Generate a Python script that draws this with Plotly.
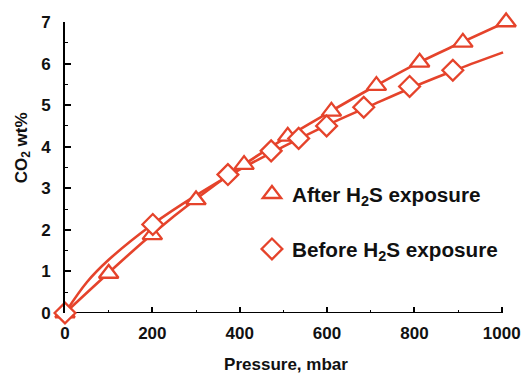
import plotly.graph_objects as go

after_x = [0, 100, 200, 300, 410, 510, 610, 713, 812, 911, 1010]
after_y = [0, 0.95, 1.88, 2.72, 3.57, 4.25, 4.85, 5.47, 6.03, 6.51, 7.0]

before_x = [0, 201, 373, 472, 535, 599, 684, 789, 888]
before_y = [0, 2.13, 3.33, 3.90, 4.20, 4.50, 4.95, 5.45, 5.84]

# Fitted curves
after_fit_x = [0, 100, 200, 300, 400, 500, 600, 700, 800, 900, 1010]
after_fit_y = [0, 0.97, 1.90, 2.74, 3.50, 4.18, 4.80, 5.40, 5.97, 6.47, 7.0]

before_fit_x = [0, 50, 100, 200, 300, 400, 500, 600, 700, 800, 900, 1003]
before_fit_y = [0, 0.74, 1.28, 2.13, 2.83, 3.45, 4.00, 4.52, 4.99, 5.45, 5.87, 6.27]

x_ticks = [0, 200, 400, 600, 800, 1000]
y_ticks = [0, 1, 2, 3, 4, 5, 6, 7]
x_axis_end = 1000

RED = "#E5432B"
FONT = "Liberation Sans, Arial, sans-serif"
TXT = "#111111"

fig = go.Figure()
fig.add_trace(go.Scatter(x=after_fit_x, y=after_fit_y, mode="lines",
                         line=dict(color=RED, width=2.6, shape="spline", smoothing=1.0),
                         showlegend=False, cliponaxis=False, hoverinfo="skip"))
fig.add_trace(go.Scatter(x=before_fit_x, y=before_fit_y, mode="lines",
                         line=dict(color=RED, width=2.6, shape="spline", smoothing=1.0),
                         showlegend=False, cliponaxis=False, hoverinfo="skip"))
fig.add_trace(go.Scatter(x=after_x, y=after_y, mode="markers",
                         name="After H<sub>2</sub>S exposure", legendgroup="a",
                         marker=dict(symbol="triangle-up", size=17, color="white",
                                     line=dict(color=RED, width=2.3)),
                         cliponaxis=False))
fig.add_trace(go.Scatter(x=before_x, y=before_y, mode="markers",
                         name="Before H<sub>2</sub>S exposure", legendgroup="b",
                         marker=dict(symbol="diamond", size=16, color="white",
                                     line=dict(color=RED, width=2.3)),
                         cliponaxis=False))

axis_common = dict(
    ticks="inside", ticklen=6, tickwidth=1.5, tickcolor="black",
    showgrid=False, zeroline=False, mirror=False, automargin=False,
    tickfont=dict(family=FONT, size=17, color=TXT, weight="bold"),
)

fig.update_xaxes(range=[0, 1012], tickvals=x_ticks, showline=False,
                 minor=dict(ticks="inside", ticklen=3, tickwidth=1.2, tickcolor="black", dtick=100, tick0=0),
                 title=dict(text="Pressure, mbar", font=dict(family=FONT, size=17, color=TXT, weight="bold"),
                            standoff=21),
                 ticklabelstandoff=8,
                 **axis_common)
fig.update_yaxes(range=[0, 7], tickvals=y_ticks, showline=True, linecolor="black", linewidth=2,
                 minor=dict(ticks="inside", ticklen=3, tickwidth=1.2, tickcolor="black", dtick=0.5, tick0=0),
                 ticklabelstandoff=9,
                 **axis_common)

# y axis title placed like the reference (slightly above centre)
fig.add_annotation(text="CO<sub>2</sub> wt%", xref="paper", yref="paper",
                   x=-0.096, y=0.568, xanchor="center", yanchor="middle",
                   textangle=-90, showarrow=False,
                   font=dict(family=FONT, size=17, color=TXT, weight="bold"))

# x axis line ends at the last tick (1000) like the reference
fig.add_shape(type="line", xref="x", yref="y", x0=0, x1=x_axis_end, y0=0, y1=0,
              line=dict(color="black", width=2), layer="below")

fig.update_layout(
    width=525, height=374,
    margin=dict(l=65, r=18, t=22, b=61, pad=0),
    paper_bgcolor="white", plot_bgcolor="white",
    showlegend=True,
    legend=dict(x=0.423, y=0.4775, xanchor="left", yanchor="top",
                bgcolor="rgba(0,0,0,0)", tracegroupgap=25,
                font=dict(family=FONT, size=20.7, color=TXT, weight="bold"),
                itemsizing="trace"),
)

fig.write_html("out.html",
               config={"displayModeBar": False},
               post_script="document.body.style.margin='0';document.body.style.overflow='hidden';")
